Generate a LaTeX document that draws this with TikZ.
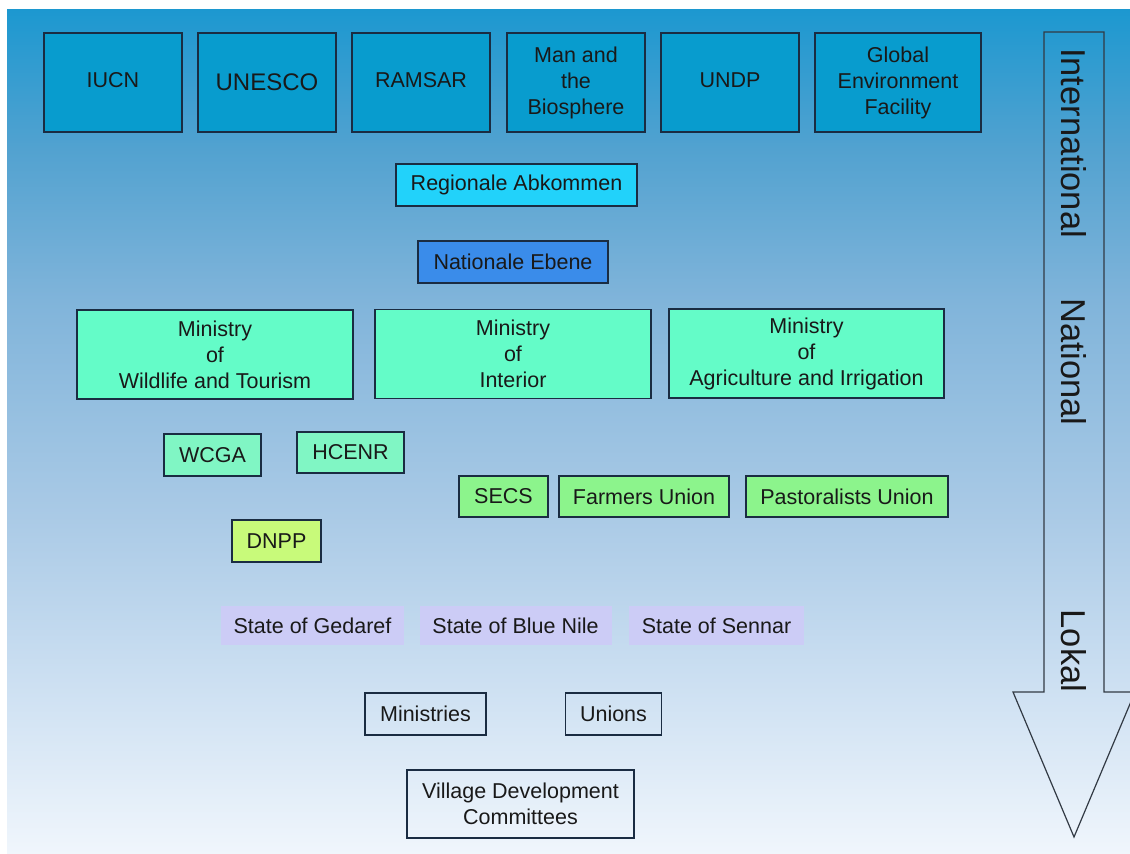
\documentclass[tikz,border=0pt]{standalone}
\usepackage{fontspec}
\setmainfont{Liberation Sans}
\usetikzlibrary{positioning}

% background colours, top to bottom
\definecolor{bgA}{RGB}{28,152,208}
\definecolor{bgB}{RGB}{82,162,208}
\definecolor{bgC}{RGB}{128,180,218}
\definecolor{bgD}{RGB}{170,202,230}
\definecolor{bgE}{RGB}{205,224,242}
\definecolor{bgF}{RGB}{240,246,252}
% box colours
\definecolor{edge}{RGB}{26,44,66}
\definecolor{intl}{RGB}{8,156,206}
\definecolor{regio}{RGB}{34,210,250}
\definecolor{natio}{RGB}{58,140,234}
\definecolor{minis}{RGB}{100,252,200}
\definecolor{agency}{RGB}{128,246,196}
\definecolor{union}{RGB}{140,244,140}
\definecolor{parks}{RGB}{200,250,122}
\definecolor{state}{RGB}{204,204,246}
\definecolor{arrowline}{RGB}{50,58,68}

\pgfdeclareverticalshading{skyfade}{100bp}{%
  color(0bp)=(bgF); color(25bp)=(bgF);
  color(35bp)=(bgE); color(45bp)=(bgD);
  color(57.8bp)=(bgC); color(66.7bp)=(bgB);
  color(75bp)=(bgA); color(100bp)=(bgA)}

\tikzset{
  box/.style={draw=edge, line width=1.4pt, align=center, inner sep=0pt,
    text=black!90, font=\fontsize{21.5}{26}\selectfont},
  intlbox/.style={box, fill=intl, minimum width=138pt, minimum height=99pt},
  ministrybox/.style={box, fill=minis, minimum height=89pt},
  smallbox/.style={box, minimum height=42pt},
  statebox/.style={align=center, inner sep=0pt, fill=state, minimum height=39pt,
    text=black!90, font=\fontsize{21.5}{26}\selectfont},
  levellabel/.style={rotate=-90, text=black!90, font=\fontsize{34.5}{38}\selectfont}
}

\begin{document}
\begin{tikzpicture}[x=1pt, y=-1pt]
  \useasboundingbox (0,0) rectangle (1130,854);
  \fill[white] (0,0) rectangle (1130,854);
  \shade[shading=skyfade] (7,9) rectangle (1130,854);

  % international organisations
  \node[intlbox] (iucn)   at (113,82.5) {IUCN\vphantom{g}};
  \node[intlbox, font=\fontsize{24}{28}\selectfont] (unesco) at (267,82.5) {UNESCO};
  \node[intlbox] (ramsar) at (421,82.5) {RAMSAR\vphantom{g}};
  \node[intlbox] (mab)    at (576,82.5) {Man and\\the\\Biosphere};
  \node[intlbox] (undp)   at (730,82.5) {UNDP\vphantom{g}};
  \node[intlbox, minimum width=166pt] (gef) at (898,82.5) {Global\\Environment\\Facility};

  % regional and national level
  \node[smallbox, fill=regio, minimum width=241pt] (regio) at (516.5,185) {Regionale Abkommen};
  \node[smallbox, fill=natio, minimum width=190pt] (natio) at (513,262) {Nationale Ebene};

  % ministries
  \node[ministrybox, minimum width=276pt] (wildlife) at (215,354.5) {Ministry\\of\\Wildlife and Tourism};
  \node[ministrybox, minimum width=276pt] (interior) at (513,354) {Ministry\\of\\Interior};
  \node[ministrybox, minimum width=275pt] (agri)     at (806.5,353.5) {Ministry\\of\\Agriculture and Irrigation};

  % agencies and unions
  \node[smallbox, fill=agency, minimum width=97pt]  (wcga)  at (212.5,455) {WCGA};
  \node[smallbox, fill=agency, minimum width=107pt, minimum height=41pt] (hcenr) at (350.5,452.5) {HCENR};
  \node[smallbox, fill=union, minimum width=89pt, minimum height=41pt]  (secs)  at (503.5,496.5) {SECS};
  \node[smallbox, fill=union, minimum width=170pt, minimum height=41pt] (farm)  at (644,496.5) {Farmers Union};
  \node[smallbox, fill=union, minimum width=202pt, minimum height=41pt] (past)  at (847,496.5) {Pastoralists Union};
  \node[smallbox, fill=parks, minimum width=89pt]   (dnpp)  at (276.5,541) {DNPP};

  % states
  \node[statebox, minimum width=183pt] (gedaref)  at (312.5,625.5) {State of Gedaref};
  \node[statebox, minimum width=192pt] (bluenile) at (515.5,625.5) {State of Blue Nile};
  \node[statebox, minimum width=175pt] (sennar)   at (716.5,625.5) {State of Sennar};

  % local level
  \node[smallbox, minimum width=121pt] (lmin)  at (425.5,714) {Ministries};
  \node[smallbox, minimum width=96pt]  (lun)   at (613.5,714) {Unions};
  \node[smallbox, minimum width=227pt, minimum height=68pt] (vdc) at (520.5,804) {Village Development\\Committees};

  % level arrow
  \draw[arrowline, line width=1.2pt, line join=miter]
    (1044,32) -- (1104,32) -- (1104,692) -- (1135,692) -- (1074,837)
    -- (1013,692) -- (1044,692) -- cycle;
  \node[levellabel] (lint) at (1074,143) {International};
  \node[levellabel] (lnat) at (1074,362) {National};
  \node[levellabel] (llok) at (1074,651) {Lokal};
\end{tikzpicture}
\end{document}
